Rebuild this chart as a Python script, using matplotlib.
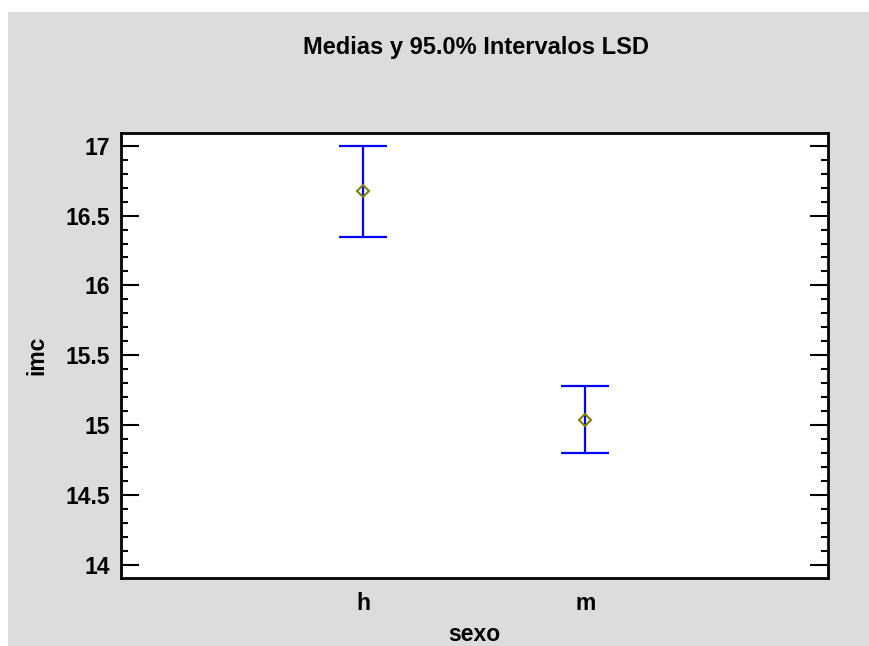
import numpy as np
import matplotlib
matplotlib.use('Agg')
import matplotlib.pyplot as plt
from matplotlib.patches import Rectangle
from matplotlib.ticker import MultipleLocator

plt.rcParams['font.family'] = ['Liberation Sans', 'DejaVu Sans']

categories = ['h', 'm']
means = [16.675, 15.04]
lower = [16.35, 14.80]
upper = [17.0, 15.28]


def main():
    fig = plt.figure(figsize=(8.69, 6.46), dpi=100)
    fig.patch.set_facecolor('white')
    # grey panel behind everything
    fig.patches.append(Rectangle((8 / 869, 0), 1 - 8 / 869, 1 - 12 / 646,
                                 transform=fig.transFigure,
                                 facecolor='#dcdcdc', edgecolor='none', zorder=-1))

    ax = fig.add_axes([0.1392, 0.1053, 0.8133, 0.6893])
    ax.set_facecolor('white')

    x = np.arange(1, len(categories) + 1)
    m = np.array(means)
    yerr = [m - np.array(lower), np.array(upper) - m]
    ax.errorbar(x, m, yerr=yerr, fmt='none', ecolor='#0000ff',
                elinewidth=1.6, capsize=17, capthick=1.6)
    ax.plot(x, m, linestyle='none', marker='D', markersize=6,
            mfc='none', mec='#808000', mew=1.5)

    ax.set_xlim(-0.09, 3.09)
    ax.set_ylim(13.907, 17.093)
    ax.set_xticks(x)
    ax.set_xticklabels(categories)
    ax.yaxis.set_major_locator(MultipleLocator(0.5))
    ax.yaxis.set_minor_locator(MultipleLocator(0.1))
    ax.set_yticklabels([f'{v:g}' for v in ax.get_yticks()])

    ax.tick_params(axis='y', which='major', direction='in', length=13, width=1.5,
                   left=True, right=True, labelsize=16.5, pad=8)
    ax.tick_params(axis='y', which='minor', direction='in', length=5, width=1.5,
                   left=True, right=True)
    ax.tick_params(axis='x', which='both', length=0, labelsize=16.5, pad=10)
    for lab in ax.get_xticklabels() + ax.get_yticklabels():
        lab.set_fontweight('bold')
    for s in ax.spines.values():
        s.set_linewidth(2)

    ax.set_xlabel('sexo', fontsize=16.5, fontweight='bold', labelpad=6)
    ax.set_ylabel('imc', fontsize=16.5, fontweight='bold', labelpad=12)
    fig.text(0.548, 0.927, 'Medias y 95.0% Intervalos LSD', ha='center', va='center',
             fontsize=17, fontweight='bold')

    fig.savefig('out.png', dpi=100)


if __name__ == "__main__":
    main()
